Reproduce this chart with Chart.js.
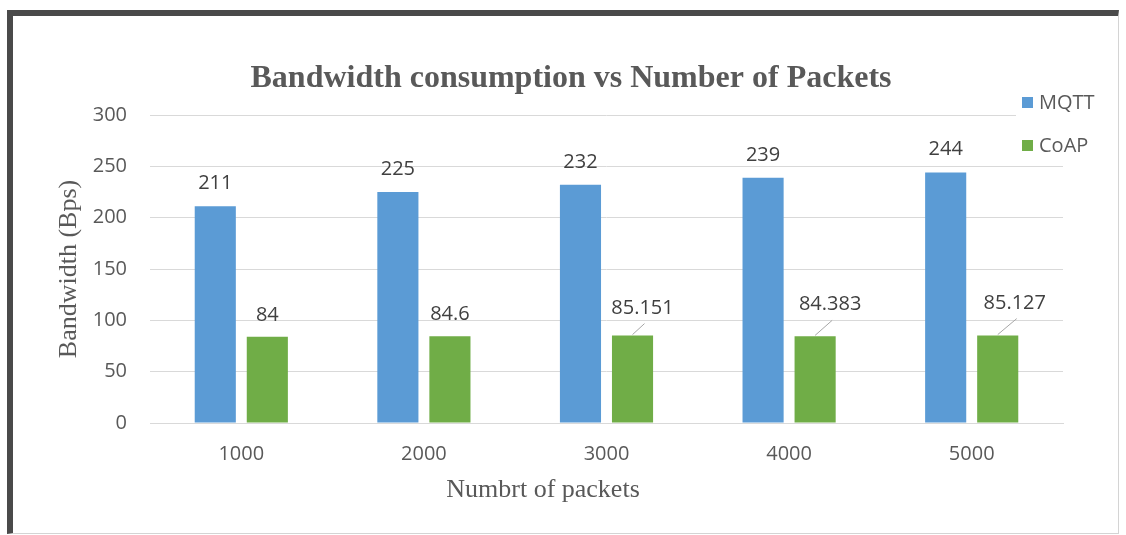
<!DOCTYPE html>
<html><head><meta charset="utf-8">
<script src="https://cdn.jsdelivr.net/npm/chart.js@4"></script>
<style>
html,body{margin:0;padding:0;background:#fff;}
#frame{position:absolute;left:7px;top:10px;width:1112px;height:524px;box-sizing:border-box;border-left:6px solid #4a4a4a;border-top:6px solid #4a4a4a;border-right:1px solid #d4d4d4;border-bottom:1px solid #d4d4d4;}
#wrap{position:absolute;left:0;top:0;width:1126px;height:535px;}
</style></head><body>
<div id="frame"></div>
<div id="wrap"><canvas id="c" width="1126" height="535"></canvas></div>
<script>
const categories = ['1000', '2000', '3000', '4000', '5000'];
const mqttValues = [211, 225, 232, 239, 244];
const coapValues = [84, 84.6, 85.151, 84.383, 85.127];
const seriesNames = ['MQTT', 'CoAP'];
const yTickValues = [0, 50, 100, 150, 200, 250, 300];
const chartTitle = 'Bandwidth consumption vs Number of Packets';
const xAxisTitle = 'Numbrt of packets';
const yAxisTitle = 'Bandwidth (Bps)';

const colors = ['#5B9BD5', '#70AD47'];
const textGray = '#595959';
// label placement relative to bar top centre (dx, dy) -- style only
const labelPlacement = [
  [[0,-24],[0,-24],[0,-24],[0,-24],[0,-24]],
  [[0,-23],[0,-23],[10,-29],[15,-33],[17,-34]]
];

const overlay = {
  id: 'overlay',
  afterDraw(chart) {
    const ctx = chart.ctx;
    ctx.save();
    // data labels
    ctx.font = "20px 'Open Sans'";
    ctx.textAlign = 'center';
    ctx.textBaseline = 'alphabetic';
    chart.data.datasets.forEach((ds, di) => {
      const meta = chart.getDatasetMeta(di);
      meta.data.forEach((bar, i) => {
        const off = labelPlacement[di][i];
        const lx = bar.x + off[0], ly = bar.y + off[1];
        if (off[0] !== 0) {
          ctx.strokeStyle = '#a6a6a6';
          ctx.lineWidth = 1;
          ctx.beginPath();
          ctx.moveTo(bar.x, bar.y - 1);
          ctx.lineTo(lx + 2, ly + 17);
          ctx.stroke();
        }
        ctx.fillStyle = '#404040';
        ctx.fillText(String(ds.data[i]), lx, ly + 7);
      });
    });
    // title
    ctx.fillStyle = textGray;
    ctx.font = "bold 32px 'Liberation Serif'";
    ctx.fillText(chartTitle, 571, 87);
    // x axis title
    ctx.font = "26px 'Liberation Serif'";
    ctx.fillText(xAxisTitle, 543, 497);
    // legend
    ctx.fillStyle = '#ffffff';
    ctx.fillRect(1016, 88, 95, 72);
    ctx.font = "20px 'Open Sans'";
    ctx.textAlign = 'left';
    chart.data.datasets.forEach((ds, di) => {
      const cy = 102 + di * 43;
      ctx.fillStyle = ds.backgroundColor;
      ctx.fillRect(1022, cy - 5, 11, 11);
      ctx.fillStyle = textGray;
      ctx.fillText(ds.label, 1039, cy + 7);
    });
    ctx.restore();
  }
};

new Chart(document.getElementById('c'), {
  type: 'bar',
  data: {
    labels: categories,
    datasets: [
      { label: seriesNames[0], data: mqttValues, backgroundColor: colors[0], categoryPercentage: 0.57, barPercentage: 0.79 },
      { label: seriesNames[1], data: coapValues, backgroundColor: colors[1], categoryPercentage: 0.57, barPercentage: 0.79 }
    ]
  },
  options: {
    responsive: false,
    animation: false,
    layout: { padding: { top: 115, right: 63, left: 0, bottom: 0 } },
    plugins: { legend: { display: false }, title: { display: false }, tooltip: { enabled: false } },
    scales: {
      x: {
        grid: { display: false, drawTicks: false },
        border: { display: true, color: '#d9d9d9' },
        ticks: { color: textGray, font: { family: "'Open Sans'", size: 20 }, padding: 19 },
        afterFit(s) { s.height = 112; }
      },
      y: {
        min: 0, max: 300,
        afterBuildTicks(s) { s.ticks = yTickValues.map(v => ({ value: v })); },
        grid: { color: '#d9d9d9', drawTicks: false },
        border: { display: false },
        ticks: { color: textGray, font: { family: "'Open Sans'", size: 20 }, padding: 23 },
        title: { display: true, text: yAxisTitle, color: textGray, font: { family: "'Liberation Serif'", size: 26 }, padding: { top: 54, bottom: 0 } },
        afterFit(s) { s.width = 150; }
      }
    }
  },
  plugins: [overlay]
});
</script>
</body></html>
